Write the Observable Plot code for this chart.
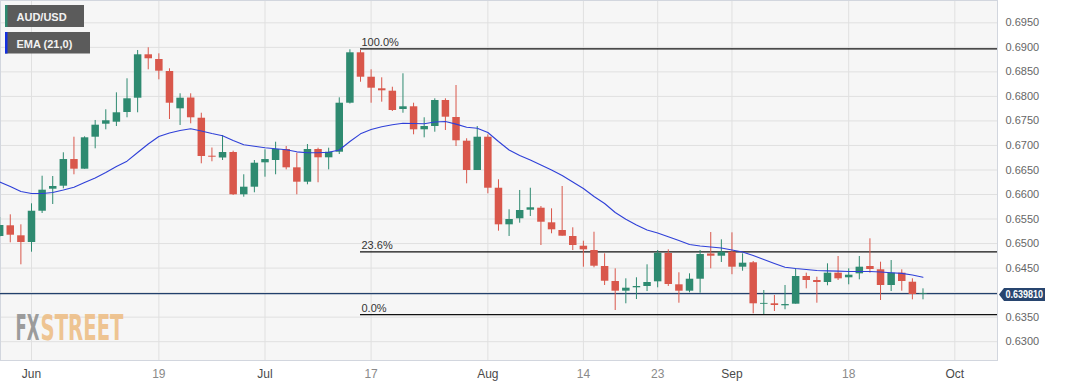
<!DOCTYPE html>
<html><head><meta charset="utf-8">
<script src="https://cdn.jsdelivr.net/npm/d3@7"></script>
<script src="https://cdn.jsdelivr.net/npm/@observablehq/plot@0.6"></script>
<style>
html,body{margin:0;padding:0;background:#fff;}
#chart svg{display:block;}
</style></head><body><div id="chart"></div>
<script>
// Trading sessions (2023), May 29 .. Sep 27
const dates = [
"05-29","05-30","05-31",
"06-01","06-02","06-05","06-06","06-07","06-08","06-09","06-12","06-13","06-14","06-15","06-16","06-19","06-20","06-21","06-22","06-23","06-26","06-27","06-28","06-29","06-30",
"07-03","07-04","07-05","07-06","07-07","07-10","07-11","07-12","07-13","07-14","07-17","07-18","07-19","07-20","07-21","07-24","07-25","07-26","07-27","07-28","07-31",
"08-01","08-02","08-03","08-04","08-07","08-08","08-09","08-10","08-11","08-14","08-15","08-16","08-17","08-18","08-21","08-22","08-23","08-24","08-25","08-28","08-29","08-30","08-31",
"09-01","09-04","09-05","09-06","09-07","09-08","09-11","09-12","09-13","09-14","09-15","09-18","09-19","09-20","09-21","09-22","09-25","09-26","09-27"];

const open = [0.65144,0.65362,0.65158,0.65021,0.65659,0.66108,0.66169,0.66713,0.66516,0.67168,0.67433,0.67474,0.67672,0.67963,0.68848,0.68752,0.68508,0.67747,0.67967,0.67555,0.66781,0.66744,0.66856,0.65994,0.66149,0.66646,0.66693,0.66917,0.66544,0.66251,0.66917,0.66748,0.66862,0.67861,0.68889,0.68391,0.68155,0.68106,0.67733,0.67788,0.67319,0.67386,0.67916,0.67570,0.67087,0.66489,0.67168,0.66128,0.65382,0.65505,0.65680,0.65721,0.65423,0.65266,0.65144,0.64946,0.64858,0.64532,0.64226,0.64029,0.64098,0.64125,0.64220,0.64797,0.64159,0.64029,0.64273,0.64787,0.64742,0.64824,0.64518,0.64608,0.63762,0.63772,0.63731,0.63764,0.64328,0.64247,0.64206,0.64396,0.64302,0.64383,0.64532,0.64465,0.64145,0.64396,0.64212,0.63965];
const high = [0.65531,0.65586,0.65382,0.65810,0.66373,0.66367,0.66850,0.67168,0.67176,0.67509,0.67727,0.68073,0.68359,0.68936,0.68991,0.68868,0.68563,0.68053,0.68053,0.67657,0.66948,0.67203,0.66883,0.66402,0.66693,0.66911,0.67066,0.66978,0.66842,0.67019,0.66944,0.66944,0.67971,0.68950,0.68936,0.68542,0.68379,0.68187,0.68461,0.67861,0.67564,0.67951,0.67951,0.68222,0.67136,0.67386,0.67217,0.66300,0.65688,0.66082,0.66128,0.65755,0.65708,0.66163,0.65321,0.65048,0.65231,0.64791,0.64485,0.64281,0.64302,0.64567,0.64858,0.64872,0.64404,0.64383,0.64858,0.65225,0.65076,0.65219,0.64791,0.64634,0.64043,0.63941,0.64145,0.64485,0.64396,0.64314,0.64587,0.64736,0.64485,0.64736,0.65097,0.64620,0.64654,0.64465,0.64281,0.64077];
const low = [0.65124,0.65015,0.64567,0.64824,0.65613,0.65796,0.66116,0.66402,0.66516,0.66932,0.67319,0.67386,0.67564,0.67666,0.68542,0.68338,0.67529,0.67407,0.67441,0.66626,0.66667,0.66693,0.65980,0.65945,0.66035,0.66353,0.66402,0.66503,0.65994,0.66198,0.66239,0.66503,0.66815,0.67845,0.68289,0.67861,0.67882,0.67692,0.67657,0.67217,0.67156,0.67270,0.67305,0.66978,0.66218,0.66489,0.66014,0.65252,0.65144,0.65415,0.65551,0.64960,0.65199,0.65150,0.64858,0.64518,0.64506,0.64145,0.63635,0.63772,0.63859,0.64022,0.64098,0.64125,0.63784,0.63996,0.63988,0.64485,0.64614,0.64365,0.64436,0.63568,0.63554,0.63615,0.63650,0.63764,0.64077,0.63784,0.64139,0.64247,0.64159,0.64261,0.64396,0.63839,0.64022,0.64029,0.63853,0.63853];
const close = [0.65368,0.65170,0.65021,0.65659,0.66088,0.66163,0.66713,0.66516,0.67156,0.67413,0.67503,0.67666,0.67951,0.68848,0.68767,0.68514,0.67861,0.67963,0.67564,0.66775,0.66760,0.66856,0.65994,0.66149,0.66638,0.66713,0.66917,0.66544,0.66251,0.66917,0.66748,0.66862,0.67861,0.68889,0.68391,0.68167,0.68114,0.67712,0.67788,0.67319,0.67386,0.67916,0.67576,0.67095,0.66489,0.67168,0.66128,0.65382,0.65490,0.65674,0.65729,0.65435,0.65280,0.65150,0.64960,0.64872,0.64538,0.64232,0.64029,0.64090,0.64125,0.64206,0.64803,0.64165,0.64029,0.64273,0.64777,0.64742,0.64824,0.64518,0.64600,0.63772,0.63780,0.63737,0.63757,0.64328,0.64247,0.64206,0.64396,0.64281,0.64355,0.64518,0.64471,0.64145,0.64396,0.64226,0.63961,0.63981];
const ema = [0.66255,0.66163,0.66061,0.66020,0.66020,0.66041,0.66092,0.66149,0.66245,0.66336,0.66448,0.66571,0.66679,0.66856,0.67029,0.67182,0.67254,0.67305,0.67339,0.67295,0.67244,0.67199,0.67101,0.67013,0.66983,0.66952,0.66934,0.66913,0.66870,0.66852,0.66852,0.66860,0.66907,0.67080,0.67237,0.67325,0.67382,0.67421,0.67451,0.67447,0.67443,0.67478,0.67488,0.67435,0.67370,0.67352,0.67264,0.67080,0.66907,0.66795,0.66703,0.66601,0.66499,0.66387,0.66255,0.66122,0.65959,0.65816,0.65633,0.65494,0.65378,0.65276,0.65217,0.65140,0.65062,0.64981,0.64950,0.64930,0.64909,0.64868,0.64828,0.64756,0.64675,0.64593,0.64516,0.64491,0.64471,0.64451,0.64444,0.64438,0.64430,0.64430,0.64430,0.64420,0.64406,0.64393,0.64359,0.64314];

const lastPrice = 0.639810;
const fibLevels = [0.6897, 0.64829, 0.6355];
const fibLabels = ["100.0%", "23.6%", "0.0%"];
const fibStartSession = 34;   // Jul 14 session, where the retracement drawing starts

const yTicks = [0.6300,0.6350,0.6400,0.6450,0.6500,0.6550,0.6600,0.6650,0.6700,0.6750,0.6800,0.6850,0.6900,0.6950];
// 0.6400 label is hidden under the last-price tag in the reference
const yLabels = [0.6300,0.6350,0.6450,0.6500,0.6550,0.6600,0.6650,0.6700,0.6750,0.6800,0.6850,0.6900,0.6950];
// session index of each date label (Oct 2 lies 3 sessions past the last candle)
const tickSessions = [3, 15, 25, 35, 46, 55, 62, 69, 80, 90];
const tickLabels = ["Jun","19","Jul","17","Aug","14","23","Sep","18","Oct"];
const tickIsMonth = [true,false,true,false,true,false,false,true,false,true];

const rows = dates.map((d, i) => ({i, date: d, open: open[i], high: high[i], low: low[i], close: close[i], ema: ema[i]}));
const GREEN = "#2e8a70", RED = "#d9574b";
const col = d => d.close >= d.open ? GREEN : RED;
const labelOf = new Map(tickSessions.map((s, k) => [s, tickLabels[k]]));
const monthTicks = tickSessions.filter((s, k) => tickIsMonth[k]);
const dayTicks = tickSessions.filter((s, k) => !tickIsMonth[k]);
const X0 = 0.079, X1 = 94.02;

const plot = Plot.plot({
  width: 1067, height: 386,
  marginTop: 0, marginLeft: 0, marginRight: 70, marginBottom: 26,
  style: {fontFamily: "'Liberation Sans', Arial, sans-serif", fontSize: "11px", background: "#fff", overflow: "visible"},
  x: {type: "linear", domain: [X0, X1], axis: null, label: null},
  y: {domain: [0.62616, 0.69955], axis: null, label: null},
  marks: [
    Plot.frame({fill: "#f6f6f6", stroke: null}),
    Plot.gridY(yTicks, {stroke: "#e0e0e0", strokeOpacity: 1}),
    Plot.gridX(tickSessions, {stroke: "#e0e0e0", strokeOpacity: 1}),
    Plot.frame({stroke: "#d2d6de"}),
    Plot.axisY(yLabels, {anchor: "right", tickSize: 0, tickPadding: 8, tickFormat: d3.format(".4f"), fill: "#666", fontSize: 11, label: null}),
    Plot.axisX(monthTicks, {anchor: "bottom", tickSize: 0, tickPadding: 8.5, tickFormat: d => labelOf.get(d), fill: "#4a4a4a", fontSize: 12, label: null}),
    Plot.axisX(dayTicks, {anchor: "bottom", tickSize: 0, tickPadding: 8.5, tickFormat: d => labelOf.get(d), fill: "#8a8a8a", fontSize: 12, label: null}),
    Plot.ruleY(fibLevels, {y: d => d, x1: fibStartSession, x2: X1, stroke: "#111", strokeWidth: 1.2}),
    Plot.text(fibLevels, {x: fibStartSession, y: d => d, text: (d, i) => fibLabels[i], textAnchor: "start", dx: 1, dy: -6.5, fill: "#333", fontSize: 11}),
    Plot.ruleY([lastPrice], {stroke: "#22406c", strokeWidth: 1.2}),
    Plot.ruleX(rows, {x: "i", y1: "low", y2: "high", stroke: col, strokeWidth: 1}),
    Plot.ruleX(rows, {x: "i", y1: "open", y2: "close", stroke: col, strokeWidth: 7.5}),
    Plot.line(rows, {x: "i", y: "ema", stroke: "#2f40d8", strokeWidth: 1.1})
  ]
});
document.getElementById("chart").appendChild(plot);

const svg = d3.select(plot);
const ys = plot.scale("y");
const py = ys.apply(lastPrice);
// price tag
const g = svg.append("g").attr("text-anchor", "start");
const tagTop = py - 5, tagBot = py + 8;
g.append("path").attr("d", `M999,${(tagTop+tagBot)/2} L1004,${tagTop} L1045,${tagTop} L1045,${tagBot} L1004,${tagBot} Z`).attr("fill", "#28456f");
g.append("text").attr("x", 1005.5).attr("y", tagBot - 3).attr("fill", "#fff").attr("font-size", 10.5).attr("font-weight", "bold")
  .attr("text-anchor", "start").attr("font-family", "'Liberation Sans', Arial, sans-serif")
  .attr("textLength", 37.5).attr("lengthAdjust", "spacingAndGlyphs").text(lastPrice.toFixed(6));

// legend boxes
const leg = svg.append("g").attr("text-anchor", "start").attr("font-family", "'Liberation Sans', Arial, sans-serif").attr("font-size", 11).attr("font-weight", "bold");
leg.append("rect").attr("x", 5).attr("y", 5).attr("width", 79).attr("height", 22).attr("fill", "#5b5b5b");
leg.append("rect").attr("x", 5).attr("y", 5).attr("width", 2.5).attr("height", 22).attr("fill", GREEN);
leg.append("text").attr("x", 16.5).attr("y", 20.7).attr("fill", "#f2f2f2").text("AUD/USD");
leg.append("rect").attr("x", 5).attr("y", 32).attr("width", 85).attr("height", 21.5).attr("fill", "#5b5b5b");
leg.append("rect").attr("x", 5).attr("y", 32).attr("width", 2.5).attr("height", 21.5).attr("fill", "#1430e0");
leg.append("text").attr("x", 16.5).attr("y", 47.7).attr("fill", "#f2f2f2").text("EMA (21,0)");

// watermark
const wmg = svg.append("g").attr("text-anchor", "start")
  .attr("font-family", "'Liberation Sans Narrow', 'DejaVu Sans Condensed', sans-serif")
  .attr("font-size", 35).attr("font-weight", "bold").attr("fill-opacity", 0.85);
wmg.append("text").attr("x", 15.5).attr("y", 340).attr("textLength", 24).attr("lengthAdjust", "spacingAndGlyphs").attr("fill", "#8c8c8c").text("FX");
wmg.append("text").attr("x", 40.5).attr("y", 340).attr("textLength", 83).attr("lengthAdjust", "spacingAndGlyphs").attr("fill", "#edbb80").text("STREET");
</script>
</body></html>
